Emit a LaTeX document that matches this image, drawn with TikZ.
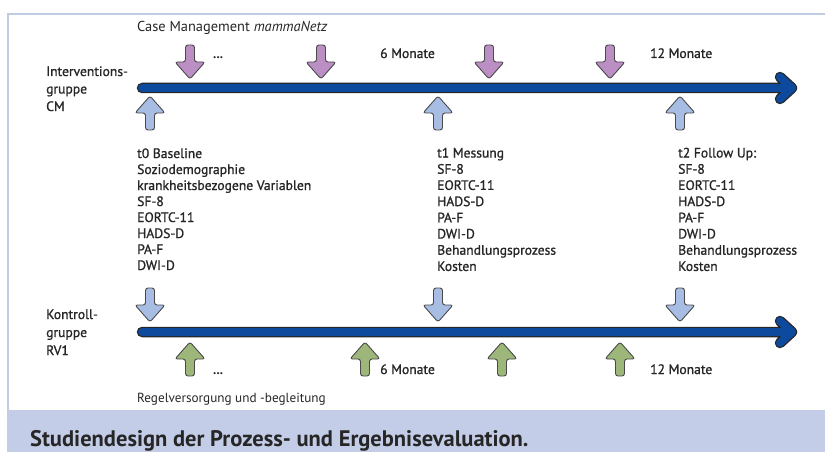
\documentclass[tikz,border=0pt]{standalone}
\usepackage{fontspec}
\setmainfont{PT Sans}
\newfontfamily\halbfett[FakeBold=1.1]{PT Sans}

\definecolor{rahmenblau}{HTML}{C2CBE4}
\definecolor{bandblau}{HTML}{C4CDE8}
\definecolor{achsblau}{HTML}{0D4A9D}
\definecolor{lila}{HTML}{BB8EC4}
\definecolor{hellblau}{HTML}{A8BDE4}
\definecolor{gruen}{HTML}{9DB77A}
\definecolor{umriss}{HTML}{4A4A4A}
\definecolor{schrift}{HTML}{262626}

\tikzset{
	pfeil/.pic={
		\draw[pic actions, rounded corners=2.5pt] (-4.5,0) -- (4.5,0) -- (4.5,17) -- (15,17) -- (0,34) -- (-15,17) -- (-4.5,17) -- cycle;
	},
	lilapfeil/.style={fill=lila, draw=umriss, line width=0.9pt},
	blaupfeil/.style={fill=hellblau, draw=umriss, line width=0.9pt},
	gruenpfeil/.style={fill=gruen, draw=umriss, line width=0.9pt},
	achsrand/.style={line width=10.5pt, draw=black!85, line cap=round, line join=round},
	achse/.style={line width=8pt, draw=achsblau, line cap=round, line join=round},
	beschriftung/.style={anchor=base west, inner sep=0pt, text=schrift, font=\fontsize{13.7}{16}\selectfont},
	spalte/.style={beschriftung, font=\halbfett\fontsize{13.6}{16}\selectfont},
	punkte/.style={beschriftung, font=\bfseries\fontsize{13}{16}\selectfont},
}

\begin{document}
\begin{tikzpicture}[x=1pt, y=-1pt]
		\useasboundingbox (0,0) rectangle (825,452);

		% rahmen und unterschrift
		\fill[bandblau] (7,410) rectangle (825,452);
		\draw[rahmenblau, line width=2.5pt] (8,411) -- (8,14) -- (825,14);
		\node[beschriftung, font=\bfseries\fontsize{22.5}{26}\selectfont] (titel) at (30,446) {Studiendesign der Prozess- und Ergebnisevaluation.};

		% zeitachse interventionsgruppe
		\coordinate (cm-start) at (142,88);
		\coordinate (cm-ende) at (792,88);
		\draw[achsrand] (cm-start) -- (cm-ende) -- ++(-12,-11) (cm-ende) -- ++(-12,11);
		\draw[achse] (cm-start) -- (cm-ende) -- ++(-12,-11) (cm-ende) -- ++(-12,11);

		% zeitachse kontrollgruppe
		\coordinate (rv-start) at (142,332);
		\coordinate (rv-ende) at (792,332);
		\draw[achsrand] (rv-start) -- (rv-ende) -- ++(-12,-11) (rv-ende) -- ++(-12,11);
		\draw[achse] (rv-start) -- (rv-ende) -- ++(-12,-11) (rv-ende) -- ++(-12,11);

		% case management pfeile
		\foreach \x in {190,321,489,610}
			\pic[lilapfeil] at (\x,45) {pfeil};

		% messzeitpunkte
		\foreach \x in {150,438,680} {
			\pic[blaupfeil, rotate=180] at (\x,130) {pfeil};
			\pic[blaupfeil] at (\x,288) {pfeil};
		}

		% regelversorgung pfeile
		\foreach \x in {190,365,502,620}
			\pic[gruenpfeil, rotate=180] at (\x,376) {pfeil};

		% gruppen
		\node[spalte] (cm1) at (46,76) {Interventions-};
		\node[spalte] (cm2) at (46,93.5) {gruppe};
		\node[spalte] (cm3) at (46,111) {CM};
		\node[spalte] (rv1) at (46,319) {Kontroll-};
		\node[spalte] (rv2) at (46,337) {gruppe};
		\node[spalte] (rv3) at (46,355) {RV1};

		% beschriftung oben
		\node[beschriftung, font=\fontsize{14.4}{16}\selectfont] (casemgmt) at (137,31.5) {Case Management \textit{mammaNetz}};
		\node[punkte] (punkte-oben) at (213,59) {...};
		\node[spalte] (sechs-oben) at (380,58) {6 Monate};
		\node[spalte] (zwoelf-oben) at (650,58) {12 Monate};

		% beschriftung unten
		\node[punkte] (punkte-unten) at (213,374) {...};
		\node[spalte] (sechs-unten) at (380,374) {6 Monate};
		\node[spalte] (zwoelf-unten) at (650,374) {12 Monate};
		\node[beschriftung, font=\fontsize{13.2}{16}\selectfont] (regel) at (137,402.5) {Regelversorgung und -begleitung};

		% t0
		\foreach \zeile [count=\i from 0] in {t0 Baseline, Soziodemographie, krankheitsbezogene Variablen, SF-8, EORTC-11, HADS-D, PA-F, DWI-D}
			\node[spalte] (t0-\i) at (137,158+16*\i) {\zeile};

		% t1
		\foreach \zeile [count=\i from 0] in {t1 Messung, SF-8, EORTC-11, HADS-D, PA-F, DWI-D, Behandlungsprozess, Kosten}
			\node[spalte] (t1-\i) at (437,157.5+16.2*\i) {\zeile};

		% t2
		\foreach \zeile [count=\i from 0] in {t2 Follow Up:, SF-8, EORTC-11, HADS-D, PA-F, DWI-D, Behandlungsprozess, Kosten}
			\node[spalte] (t2-\i) at (678,157.5+16.2*\i) {\zeile};

		\end{tikzpicture}
\end{document}
